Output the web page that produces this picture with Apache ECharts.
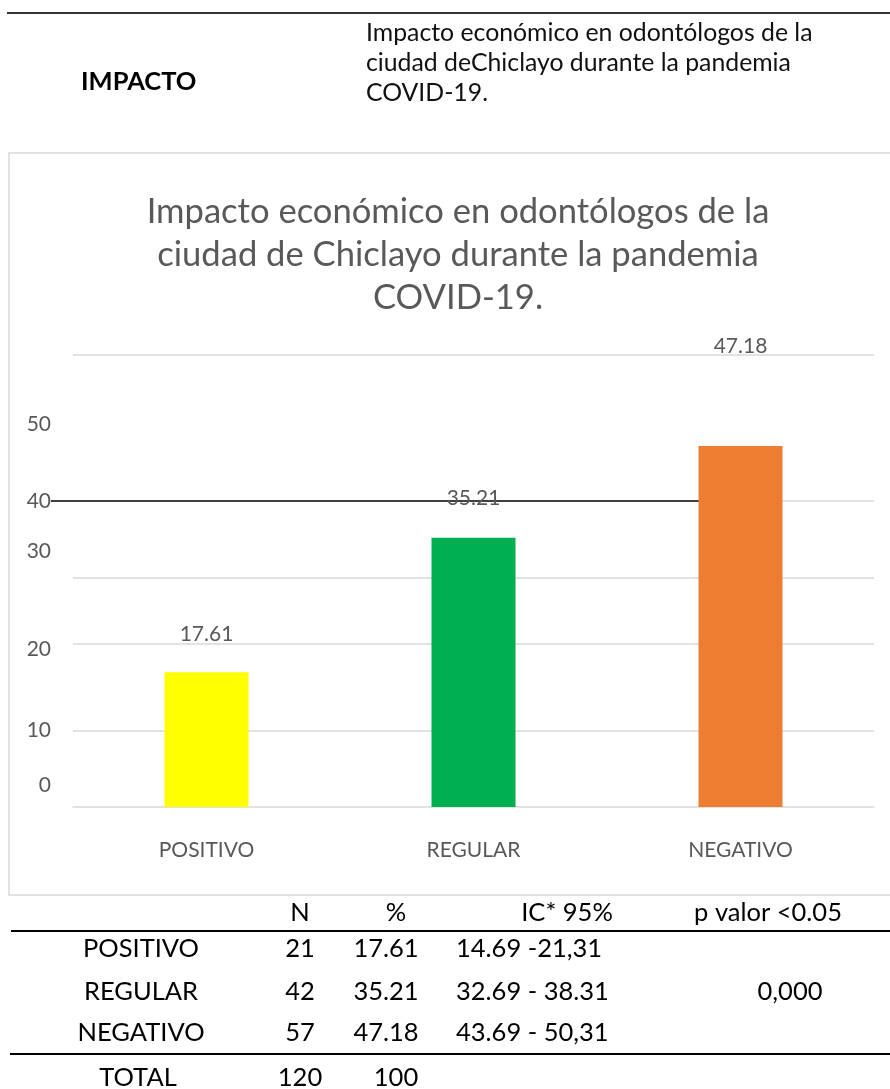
<!DOCTYPE html>
<html><head><meta charset="utf-8">
<script src="https://cdn.jsdelivr.net/npm/echarts@6/dist/echarts.min.js"></script>
<style>html,body{margin:0;padding:0;background:#fff}#c{width:890px;height:1089px}</style>
</head><body><div id="c"></div><script>
// ---- data ----
const categories = ['POSITIVO', 'REGULAR', 'NEGATIVO'];
const percentValues = [17.61, 35.21, 47.18];
const barColors = ['#FFFF00', '#00B050', '#ED7D31'];
const yTickLabels = ['0', '10', '20', '30', '40', '50'];
const gridLineValues = [10, 21.3, 30, 40, 59.1];
const chartTitle = 'Impacto económico en odontólogos de la\nciudad de Chiclayo durante la pandemia\nCOVID-19.';
const headerLabel = 'IMPACTO';
const headerText = ['Impacto económico en odontólogos de la', 'ciudad deChiclayo durante la pandemia', 'COVID-19.'];
const tableHeaders = ['N', '%', 'IC* 95%', 'p valor <0.05'];
const tableN = [21, 42, 57];
const tableIC = ['14.69 -21,31', '32.69 - 38.31', '43.69 - 50,31'];
const pValue = '0,000';
const totalRow = ['TOTAL', '120', '100'];

// ---- style ----
const FONT = 'Lato';
const GREY = '#595959';
const labelDistances = [28, 29, 89];
const yLabelShift = { 0: 44, 20: 10, 30: 53 };

const chart = echarts.init(document.getElementById('c'), null, { renderer: 'canvas' });

function txt(text, x, y, opt) {
  return {
    type: 'text', x: x, y: y, z: 10,
    style: Object.assign({ text: text, fontFamily: FONT, fontSize: 25.5, fill: '#000', align: 'center', verticalAlign: 'middle' }, opt || {})
  };
}

const graphics = [
  { type: 'line', shape: { x1: 7, y1: 13, x2: 890, y2: 13 }, style: { stroke: '#333', lineWidth: 2 } },
  txt(headerLabel, 81, 82, { align: 'left', fontWeight: 'bold', fontSize: 25.5 }),
  txt(headerText.join('\n'), 366, 63, { align: 'left', fontSize: 24.8, lineHeight: 30, fill: '#111' }),
  { type: 'rect', shape: { x: 9, y: 153, width: 900, height: 742 }, style: { fill: 'none', stroke: '#d9d9d9', lineWidth: 1.5 } },
  txt(chartTitle, 458, 255, { fontSize: 34.6, lineHeight: 43, fill: GREY }),
  // table
  { type: 'line', shape: { x1: 11, y1: 931, x2: 890, y2: 931 }, style: { stroke: '#000', lineWidth: 2 } },
  { type: 'line', shape: { x1: 10, y1: 1054, x2: 890, y2: 1054 }, style: { stroke: '#000', lineWidth: 2 } },
  txt(tableHeaders[0], 300, 913),
  txt(tableHeaders[1], 396, 913),
  txt(tableHeaders[2], 567, 913),
  txt(tableHeaders[3], 768, 913),
  txt(pValue, 790, 992)
];
const rowY = [949, 992, 1033];
categories.forEach(function (c, i) {
  graphics.push(txt(c, 141, rowY[i]));
  graphics.push(txt(String(tableN[i]), 300, rowY[i]));
  graphics.push(txt(percentValues[i].toFixed(2), 386, rowY[i]));
  graphics.push(txt(tableIC[i], 456, rowY[i], { align: 'left' }));
});
graphics.push(txt(totalRow[0], 138, 1078));
graphics.push(txt(totalRow[1], 300, 1078));
graphics.push(txt(totalRow[2], 396, 1078));

const markData = gridLineValues.map(function (v) {
  return { yAxis: v, lineStyle: { color: '#d9d9d9', width: 1.5, type: 'solid' } };
});
markData.push([
  { x: 51, yAxis: 40, lineStyle: { color: '#404040', width: 2, type: 'solid' } },
  { x: 699, yAxis: 40 }
]);

const option = {
  animation: false,
  backgroundColor: '#fff',
  textStyle: { fontFamily: FONT },
  grid: { left: 73, right: 16, top: 348, bottom: 282, containLabel: false },
  xAxis: {
    type: 'category',
    data: categories,
    axisTick: { show: false },
    axisLine: { lineStyle: { color: '#d9d9d9', width: 1.5 } },
    axisLabel: { margin: 33, color: GREY, fontSize: 21, fontFamily: FONT }
  },
  yAxis: {
    type: 'value', min: 0, max: 60, interval: 10,
    splitLine: { show: false },
    axisLine: { show: false },
    axisTick: { show: false },
    axisLabel: {
      margin: 22, color: GREY, fontSize: 21, fontFamily: FONT,
      formatter: function (v) {
        const s = yTickLabels[Math.round(v / 10)];
        if (s === undefined) return '';
        if (yLabelShift[v] !== undefined) return '{s' + v + '|' + s + '}\n{s' + v + '| }';
        return s;
      },
      rich: {
        s0: { lineHeight: yLabelShift[0], fontSize: 21, color: GREY, fontFamily: FONT },
        s20: { lineHeight: yLabelShift[20], fontSize: 21, color: GREY, fontFamily: FONT },
        s30: { lineHeight: yLabelShift[30], fontSize: 21, color: GREY, fontFamily: FONT }
      }
    }
  },
  series: [{
    type: 'bar',
    z: 2,
    barWidth: 84,
    data: percentValues.map(function (v, i) {
      return { value: v, itemStyle: { color: barColors[i] }, label: { distance: labelDistances[i] } };
    }),
    label: { show: true, position: 'top', color: GREY, fontSize: 21, fontFamily: FONT, formatter: function (p) { return p.value.toFixed(2); } },
    markLine: {
      z: 1, silent: true, symbol: 'none', animation: false,
      label: { show: false },
      data: markData
    }
  }],
  graphic: graphics
};
chart.setOption(option);
</script></body></html>
